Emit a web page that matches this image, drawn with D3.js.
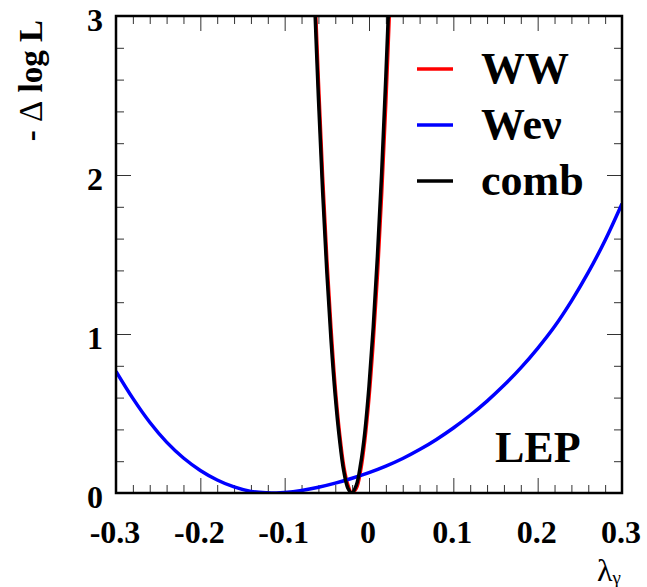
<!DOCTYPE html>
<html lang="en">
<head>
    <meta charset="UTF-8">
    <title>LEP lambda_gamma likelihood</title>
    <script src="https://d3js.org/d3.v7.min.js"></script>
    <style>
        body { margin: 0; background: #fff; }
        svg text { font-family: "Liberation Serif", "Times New Roman", serif; }
        .tick line { stroke: #333; stroke-width: 1; }
        .domain { display: none; }
        .lbl { font-weight: bold; font-size: 32px; fill: #000; }
        .leg { font-weight: bold; font-size: 44px; fill: #000; }
    </style>
</head>
<body>
    <svg width="647" height="587"></svg>

    <script>
        // lambda_gamma grid for the narrow WW / comb curves
        const narrowX = [-0.065, -0.060, -0.055, -0.050, -0.045, -0.040, -0.035, -0.030, -0.025,
                         -0.0205, -0.015, -0.010, -0.005, 0.000, 0.005, 0.010, 0.015, 0.020, 0.025];
        const wwY   = [3.27, 2.59, 1.99, 1.47, 1.03, 0.66, 0.38, 0.17, 0.05,
                       0.001, 0.03, 0.14, 0.33, 0.60, 0.95, 1.37, 1.88, 2.46, 3.13];
        const combY = [3.16, 2.49, 1.90, 1.39, 0.96, 0.61, 0.34, 0.14, 0.03,
                       0.0, 0.05, 0.18, 0.38, 0.67, 1.04, 1.49, 2.01, 2.62, 3.30];

        // W e nu curve
        const wenuX = [-0.30, -0.28, -0.26, -0.24, -0.22, -0.20, -0.18, -0.16, -0.14, -0.12, -0.11,
                       -0.10, -0.08, -0.06, -0.04, -0.02, 0.00, 0.02, 0.04, 0.06, 0.08, 0.10,
                       0.12, 0.14, 0.16, 0.18, 0.20, 0.22, 0.24, 0.26, 0.28, 0.30];
        const wenuY = [0.765, 0.595, 0.445, 0.320, 0.220, 0.142, 0.082, 0.038, 0.010, 0.001, 0.0,
                       0.003, 0.016, 0.036, 0.062, 0.093, 0.128, 0.169, 0.217, 0.273, 0.337, 0.409,
                       0.489, 0.578, 0.677, 0.787, 0.910, 1.047, 1.207, 1.387, 1.590, 1.820];

        const xMajor = [-0.3, -0.2, -0.1, 0, 0.1, 0.2, 0.3];
        const xLabels = ["-0.3", "-0.2", "-0.1", "0", "0.1", "0.2", "0.3"];
        const yMajor = [0, 1, 2, 3];
        const yLabels = ["0", "1", "2", "3"];

        const legendNames = ["WW", "Weν", "comb"];
        const legendColors = ["#ff0000", "#0000ff", "#000000"];

        const margin = {top: 16, right: 25, bottom: 94, left: 116},
              width = 622 - margin.left,
              height = 493 - margin.top;

        const svg = d3.select("svg");
        const g = svg.append("g")
            .attr("transform", "translate(" + margin.left + "," + margin.top + ")");

        const x = d3.scaleLinear().domain([-0.3, 0.3]).range([0, width]);
        const y = d3.scaleLinear().domain([0, 3]).range([height, 0]);

        const xMinor = d3.range(-0.3, 0.3001, 0.02).map(v => +v.toFixed(2))
            .filter(v => !xMajor.some(m => Math.abs(m - v) < 1e-6));
        const yMinor = d3.range(0, 3.001, 0.2).map(v => +v.toFixed(1))
            .filter(v => !yMajor.includes(v));

        // ticks, all pointing inward
        function ticks(axisFn, scale, vals, size, transform) {
            g.append("g")
                .attr("transform", transform)
                .call(axisFn(scale).tickValues(vals).tickSize(-size).tickFormat(""));
        }
        ticks(d3.axisBottom, x, xMinor, 8, "translate(0," + height + ")");
        ticks(d3.axisBottom, x, xMajor, 15, "translate(0," + height + ")");
        ticks(d3.axisTop, x, xMinor, 8, "translate(0,0)");
        ticks(d3.axisTop, x, xMajor, 15, "translate(0,0)");
        ticks(d3.axisLeft, y, yMinor, 8, "translate(0,0)");
        ticks(d3.axisLeft, y, yMajor, 15, "translate(0,0)");
        ticks(d3.axisRight, y, yMinor, 8, "translate(" + width + ",0)");
        ticks(d3.axisRight, y, yMajor, 15, "translate(" + width + ",0)");

        // tick labels
        g.selectAll(".xl")
            .data(xMajor)
            .enter().append("text")
            .attr("class", "lbl")
            .attr("x", d => x(d) - 1)
            .attr("y", height + 50)
            .attr("text-anchor", "middle")
            .text((d, i) => xLabels[i]);

        g.selectAll(".yl")
            .data(yMajor)
            .enter().append("text")
            .attr("class", "lbl")
            .attr("x", -13)
            .attr("y", d => y(d) + 15)
            .attr("text-anchor", "end")
            .text((d, i) => yLabels[i]);

        // curves
        g.append("clipPath").attr("id", "clip")
            .append("rect").attr("width", width).attr("height", height);

        const line = d3.line()
            .x(d => x(d[0]))
            .y(d => y(d[1]))
            .curve(d3.curveCatmullRom);

        const curves = [
            {xs: narrowX, ys: wwY, color: legendColors[0]},
            {xs: wenuX, ys: wenuY, color: legendColors[1]},
            {xs: narrowX, ys: combY, color: legendColors[2]}
        ];

        curves.forEach(c => {
            g.append("path")
                .datum(c.xs.map((v, i) => [v, c.ys[i]]))
                .attr("clip-path", "url(#clip)")
                .attr("fill", "none")
                .attr("stroke", c.color)
                .attr("stroke-width", 3.5)
                .attr("d", line);
        });

        // frame
        g.append("rect")
            .attr("width", width)
            .attr("height", height)
            .attr("fill", "none")
            .attr("stroke", "#000")
            .attr("stroke-width", 2.5);

        // legend
        legendNames.forEach((name, i) => {
            const ly = 69 + i * 56;
            svg.append("line")
                .attr("x1", 417).attr("x2", 453)
                .attr("y1", ly).attr("y2", ly)
                .attr("stroke", legendColors[i])
                .attr("stroke-width", 3.5);
            svg.append("text")
                .attr("class", "leg")
                .attr("x", 481)
                .attr("y", ly + 14)
                .text(name);
        });

        svg.append("text")
            .attr("class", "leg")
            .attr("x", 495)
            .attr("y", 462)
            .text("LEP");

        // axis titles
        const yt = svg.append("text")
            .attr("class", "lbl")
            .attr("transform", "translate(42,20) rotate(-90)")
            .attr("text-anchor", "end")
            .style("font-size", "33px");
        yt.append("tspan").text("- ");
        yt.append("tspan").style("font-weight", "normal").text("Δ");
        yt.append("tspan").text(" log L");

        const xt = svg.append("text")
            .attr("x", 621)
            .attr("y", 581)
            .attr("text-anchor", "end")
            .style("font-size", "32px");
        xt.append("tspan").text("λ");
        xt.append("tspan").attr("dy", 3).style("font-size", "19px").text("γ");
    </script>
</body>
</html>
